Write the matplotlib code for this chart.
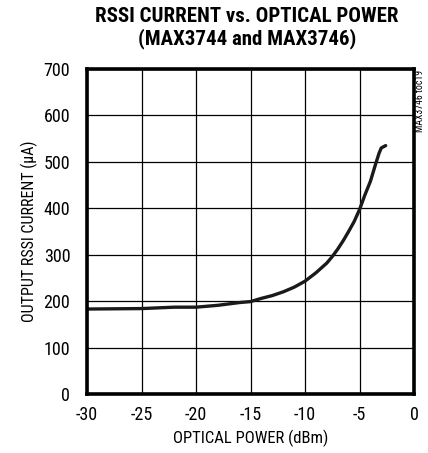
import matplotlib
matplotlib.use("Agg")
import matplotlib.pyplot as plt

cond = ["Roboto Condensed", "Archivo Narrow", "DejaVu Sans"]

power_dbm = [-30, -25, -22, -20, -18, -16, -15, -14, -13, -12, -11, -10, -9, -8,
             -7.5, -7, -6.5, -6, -5.5, -5, -4.5, -4, -3.5, -3.2, -3, -2.6]
rssi_ua = [183, 184, 187, 187, 191, 197, 199, 206, 212, 220, 230, 243, 261, 282,
           296, 312, 330, 350, 371, 397, 429, 458, 497, 519, 530, 535]
x_ticks = [-30, -25, -20, -15, -10, -5, 0]
y_ticks = [0, 100, 200, 300, 400, 500, 600, 700]

fig = plt.figure(figsize=(4.28, 4.53), dpi=100)
ax = fig.add_axes([87/428, 1-394/453, (414-87)/428, (394-69)/453])
ax.plot(power_dbm, rssi_ua, color="#1a1a1a", lw=2.4, solid_capstyle="round")
ax.set_xlim(-30, 0)
ax.set_ylim(0, 700)
ax.set_xticks(x_ticks)
ax.set_yticks(y_ticks)
ax.set_xticklabels([str(t) for t in x_ticks], family=cond, fontsize=13)
ax.set_yticklabels([str(t) for t in y_ticks], family=cond, fontsize=13)
ax.tick_params(axis="x", length=0, pad=9)
ax.tick_params(axis="y", length=0, pad=12)
ax.grid(True, color="black", lw=0.9)
for s in ax.spines.values():
    s.set_linewidth(2.6)
    s.set_color("black")
ax.set_xlabel("OPTICAL POWER (dBm)", family=cond, fontsize=12, labelpad=4)
ax.set_ylabel("OUTPUT RSSI CURRENT (µA)", family=cond, fontsize=11.5, labelpad=4)
fig.text(247/428, 1-17/453, "RSSI CURRENT vs. OPTICAL POWER", family=cond,
         fontweight="heavy", fontsize=15, ha="center", va="center")
fig.text(247/428, 1-39/453, "(MAX3744 and MAX3746)", family=cond,
         fontweight="heavy", fontsize=15, ha="center", va="center")
fig.text(420/428, 1-70/453, "MAX3746 toc19", family=cond, fontsize=7,
         rotation=90, ha="center", va="top")
fig.savefig("out.png", dpi=100)
